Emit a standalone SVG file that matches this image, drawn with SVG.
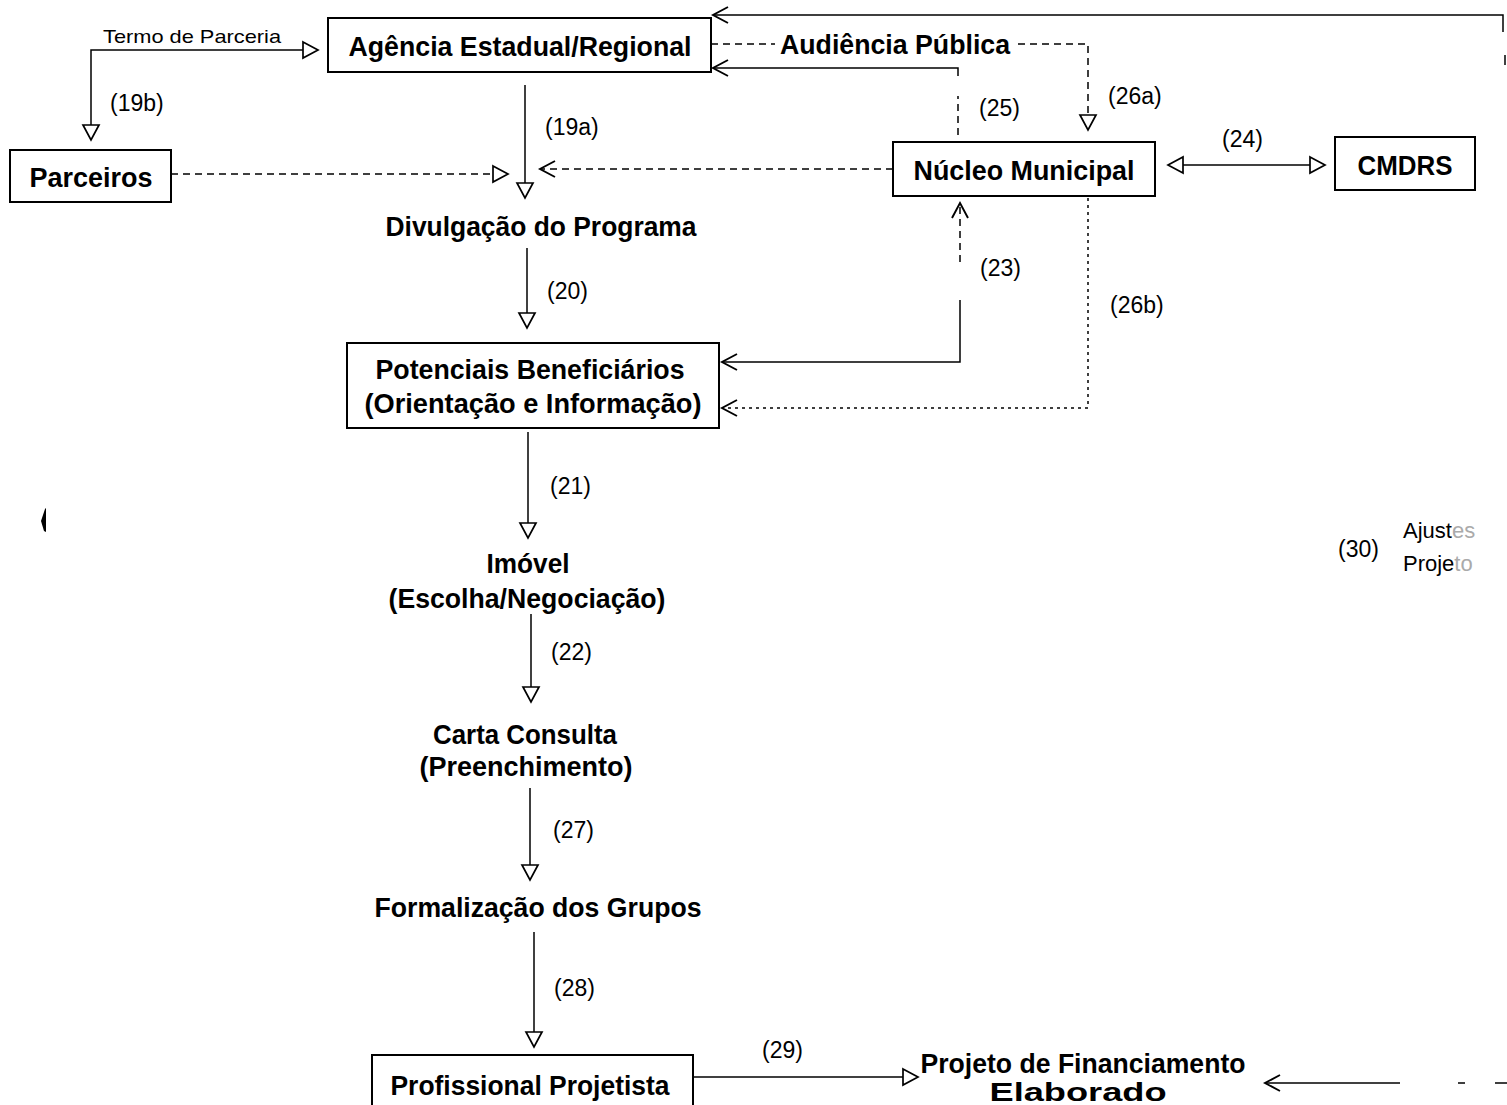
<svg xmlns="http://www.w3.org/2000/svg" width="1507" height="1105" viewBox="0 0 1507 1105">
<style>
text{font-family:"Liberation Sans",Arial,sans-serif;fill:#000}
.n{font-size:27px;font-weight:bold;text-anchor:middle}
.l{font-size:23px}
.box{fill:#fff;stroke:#000;stroke-width:2}
.c{fill:none;stroke:#000;stroke-width:1.5}
.d{stroke-dasharray:7,5}
.dt{stroke-dasharray:3,4}
</style>
<defs>
<marker id="tri" markerUnits="userSpaceOnUse" markerWidth="20" markerHeight="20" refX="16" refY="9" orient="auto-start-reverse" viewBox="0 0 20 18"><path d="M1,1 L16,9 L1,17 Z" fill="#fff" stroke="#000" stroke-width="1.7"/></marker>
<marker id="chev" markerUnits="userSpaceOnUse" markerWidth="20" markerHeight="20" refX="16" refY="9" orient="auto-start-reverse" viewBox="0 0 20 18"><path d="M1,1 L16,9 L1,17" fill="none" stroke="#000" stroke-width="1.9"/></marker>
</defs>
<g id="connectors">
<path class="c" d="M91,140 V50 H318" marker-start="url(#tri)" marker-end="url(#tri)"/>
<path class="c d" d="M171,174 H508" marker-end="url(#tri)"/>
<path class="c" d="M525,85 V198" marker-end="url(#tri)"/>
<path class="c d" d="M893,169 H540" marker-end="url(#chev)"/>
<path class="c" d="M527,248 V328" marker-end="url(#tri)"/>
<path class="c" d="M528,432 V538" marker-end="url(#tri)"/>
<path class="c" d="M531,614 V702" marker-end="url(#tri)"/>
<path class="c" d="M530,788 V880" marker-end="url(#tri)"/>
<path class="c" d="M534,932 V1047" marker-end="url(#tri)"/>
<path class="c" d="M693,1077 H918" marker-end="url(#tri)"/>
<path class="c" d="M1168,165 H1325" marker-start="url(#tri)" marker-end="url(#tri)"/>
<path class="c" d="M960,300 V362 H722" marker-end="url(#chev)"/>
<path class="c d" d="M960,262 V203" marker-end="url(#chev)"/>
<path class="c dt" d="M1088,198 V408 H722" marker-end="url(#chev)"/>
<path class="c d" d="M711,44 H775"/>
<path class="c d" d="M1018,44 H1088 V130" marker-end="url(#tri)"/>
<path class="c d" d="M958,135 V96"/>
<path class="c" d="M958,76 V68 H713" marker-end="url(#chev)"/>
<path class="c" d="M1503,32 V15 H713" marker-end="url(#chev)"/>
<path class="c" d="M1505,55 V65"/>
<path class="c" d="M1400,1083 H1265" marker-end="url(#chev)"/>
<path class="c" d="M1458,1083 H1465 M1495,1083 H1507"/>
</g>
<path d="M45,509 L41,521 L44,531 L46,532 L46,508 Z" fill="#000"/>
<g id="agencia"><rect class="box" x="328" y="18" width="383" height="54"/><text class="n" x="520" y="56" textLength="343" lengthAdjust="spacingAndGlyphs">Agência Estadual/Regional</text></g>
<g id="parceiros"><rect class="box" x="10" y="150" width="161" height="52"/><text class="n" x="91" y="187" textLength="123" lengthAdjust="spacingAndGlyphs">Parceiros</text></g>
<g id="nucleo"><rect class="box" x="893" y="142" width="262" height="54"/><text class="n" x="1024" y="180" textLength="221" lengthAdjust="spacingAndGlyphs">Núcleo Municipal</text></g>
<g id="cmdrs"><rect class="box" x="1335" y="137" width="140" height="53"/><text class="n" x="1405" y="175" textLength="95" lengthAdjust="spacingAndGlyphs">CMDRS</text></g>
<g id="divulgacao"><text class="n" x="541" y="236" textLength="311" lengthAdjust="spacingAndGlyphs">Divulgação do Programa</text></g>
<g id="potenciais"><rect class="box" x="347" y="343" width="372" height="85"/><text class="n" x="530" y="379" textLength="309" lengthAdjust="spacingAndGlyphs">Potenciais Beneficiários</text><text class="n" x="533" y="413" textLength="337" lengthAdjust="spacingAndGlyphs">(Orientação e Informação)</text></g>
<g id="imovel"><text class="n" x="528" y="573" textLength="83" lengthAdjust="spacingAndGlyphs">Imóvel</text><text class="n" x="527" y="608" textLength="277" lengthAdjust="spacingAndGlyphs">(Escolha/Negociação)</text></g>
<g id="carta"><text class="n" x="525" y="744" textLength="184" lengthAdjust="spacingAndGlyphs">Carta Consulta</text><text class="n" x="526" y="776" textLength="213" lengthAdjust="spacingAndGlyphs">(Preenchimento)</text></g>
<g id="formalizacao"><text class="n" x="538" y="917" textLength="327" lengthAdjust="spacingAndGlyphs">Formalização dos Grupos</text></g>
<g id="profissional"><rect class="box" x="372" y="1055" width="321" height="60"/><text class="n" x="530" y="1095" textLength="279" lengthAdjust="spacingAndGlyphs">Profissional Projetista</text></g>
<g id="projeto"><text class="n" x="1083" y="1073" textLength="325" lengthAdjust="spacingAndGlyphs">Projeto de Financiamento</text><text class="n" x="1078" y="1101" style="font-size:25px" textLength="177" lengthAdjust="spacingAndGlyphs">Elaborado</text></g>
<g id="labels">
<text x="103" y="43" style="font-size:19px" textLength="178" lengthAdjust="spacingAndGlyphs">Termo de Parceria</text>
<text class="l" x="110" y="111">(19b)</text>
<text class="l" x="545" y="135">(19a)</text>
<text x="780" y="54" style="font-size:27px;font-weight:bold" textLength="230" lengthAdjust="spacingAndGlyphs">Audiência Pública</text>
<text class="l" x="979" y="116">(25)</text>
<text class="l" x="1108" y="104">(26a)</text>
<text class="l" x="1222" y="147">(24)</text>
<text class="l" x="547" y="299">(20)</text>
<text class="l" x="980" y="276">(23)</text>
<text class="l" x="1110" y="313">(26b)</text>
<text class="l" x="550" y="494">(21)</text>
<text class="l" x="551" y="660">(22)</text>
<text class="l" x="553" y="838">(27)</text>
<text class="l" x="554" y="996">(28)</text>
<text class="l" x="762" y="1058">(29)</text>
<text class="l" x="1338" y="557">(30)</text>
<text x="1403" y="538" style="font-size:22px">Ajust<tspan fill="#aaa">es</tspan></text>
<text x="1403" y="571" style="font-size:22px">Proje<tspan fill="#aaa">to</tspan></text>
</g>
</svg>
